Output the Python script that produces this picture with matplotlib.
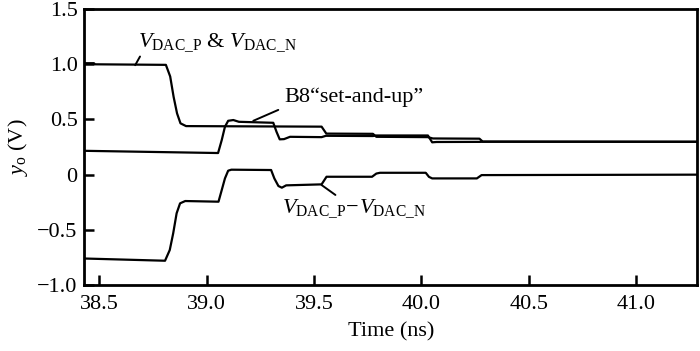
import matplotlib
matplotlib.use("Agg")
import matplotlib.pyplot as plt

plt.rcParams['font.family'] = ['Liberation Serif', 'DejaVu Serif']
plt.rcParams['mathtext.fontset'] = 'custom'
plt.rcParams['mathtext.rm'] = 'Liberation Serif'
plt.rcParams['mathtext.it'] = 'Liberation Serif:italic'
plt.rcParams['axes.unicode_minus'] = True

# --- data ---
t_p = [38.433, 38.475, 38.48, 38.81, 38.83, 38.846, 38.862, 38.878, 38.904,
       39.535, 39.557, 39.774, 39.79, 40.03, 40.053, 40.27, 40.285, 41.283]
v_p = [1.01, 1.01, 1.0, 0.995, 0.89, 0.705, 0.555, 0.465, 0.44,
       0.435, 0.372, 0.37, 0.343, 0.34, 0.328, 0.326, 0.300, 0.298]

t_n = [38.433, 39.053, 39.07, 39.085, 39.10, 39.124, 39.15, 39.31, 39.325,
       39.34, 39.36, 39.388, 39.535, 39.555, 39.774, 39.79, 40.03, 40.05,
       40.07, 40.27, 40.285, 41.283]
v_n = [0.216, 0.196, 0.313, 0.434, 0.488, 0.495, 0.479, 0.470, 0.389,
       0.320, 0.322, 0.343, 0.340, 0.352, 0.350, 0.355, 0.355, 0.293,
       0.296, 0.297, 0.298, 0.298]

t_d = [38.433, 38.806, 38.828, 38.844, 38.86, 38.876, 38.9, 39.055, 39.07,
       39.085, 39.10, 39.115, 39.30, 39.315, 39.334, 39.35, 39.37, 39.535,
       39.558, 39.77, 39.79, 39.807, 40.02, 40.035, 40.05, 40.258, 40.28, 41.283]
v_d = [-0.76, -0.78, -0.683, -0.532, -0.35, -0.26, -0.239, -0.245, -0.14,
       -0.034, 0.036, 0.045, 0.042, -0.034, -0.103, -0.118, -0.097, -0.088,
       -0.019, -0.019, 0.01, 0.017, 0.017, -0.02, -0.034, -0.034, -0.004, 0.0]

x_ticks = [38.5, 39.0, 39.5, 40.0, 40.5, 41.0]
y_ticks = [-1.0, -0.5, 0, 0.5, 1.0, 1.5]
y_tick_labels = ['\u22121.0', '\u22120.5', '0', '0.5', '1.0', '1.5']

fig = plt.figure(figsize=(7.0, 3.51), dpi=100)
ax = fig.add_axes([0.1207, 0.188, 0.875, 0.786])

lw = 1.6
ax.plot(t_p, v_p, color='black', lw=lw)
ax.plot(t_n, v_n, color='black', lw=lw)
ax.plot(t_d, v_d, color='black', lw=lw)

ax.set_xlim(38.431, 41.283)
ax.set_ylim(-1.0, 1.5)
ax.set_xticks(x_ticks)
ax.set_xticklabels([f'{v:.1f}' for v in x_ticks])
ax.set_yticks(y_ticks)
ax.set_yticklabels(y_tick_labels)

for s in ax.spines.values():
    s.set_linewidth(2.0)
ax.tick_params(direction='in', length=7, width=1.8, labelsize=16,
               top=False, right=False)
ax.tick_params(axis='x', pad=7)
ax.tick_params(axis='y', pad=5)

ax.set_xlabel('Time (ns)', fontsize=16, labelpad=6)
ax.set_ylabel(r'$y_{\rm o}$ (V)', fontsize=16, labelpad=5)

fs = 16
ax.annotate(r'$V_{\rm DAC\_P}$ & $V_{\rm DAC\_N}$', xy=(38.667, 0.992),
            xytext=(38.682, 1.158), fontsize=fs, ha='left', va='baseline',
            arrowprops=dict(arrowstyle='-', color='black', lw=1.4,
                            shrinkA=0, shrinkB=0, relpos=(0.02, 0.0)))
ax.annotate('B8\u201cset-and-up\u201d', xy=(39.217, 0.488),
            xytext=(39.364, 0.658), fontsize=fs, ha='left', va='baseline',
            arrowprops=dict(arrowstyle='-', color='black', lw=1.4,
                            shrinkA=3, shrinkB=0, relpos=(0.0, 0.0)))
ax.annotate(r'$V_{\rm DAC\_P}\!-\!V_{\rm DAC\_N}$', xy=(39.535, -0.094),
            xytext=(39.349, -0.352), fontsize=fs, ha='left', va='baseline',
            arrowprops=dict(arrowstyle='-', color='black', lw=1.4,
                            shrinkA=0, shrinkB=0, relpos=(0.4, 1.0)))

fig.savefig('out.png', dpi=100)
